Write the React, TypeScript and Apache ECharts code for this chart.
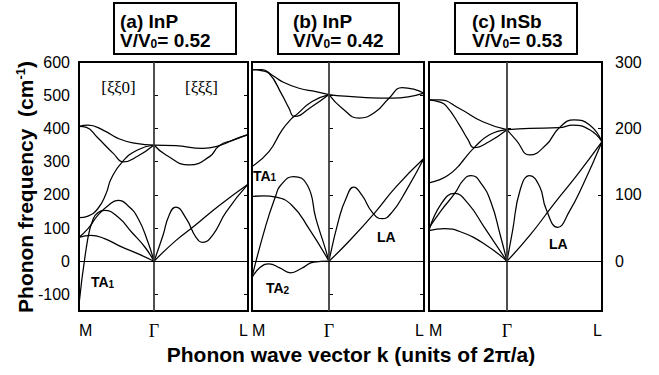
import React, { useEffect, useRef } from 'react';
import * as echarts from 'echarts';

const SANS = 'Liberation Sans, Arial, Helvetica, sans-serif';
const SERIF = 'Liberation Serif, Times New Roman, serif';

// axis ticks / labels
const xTickLabels = ['M', 'Γ', 'L'];
const yTicksLeft = [-100, 0, 100, 200, 300, 400, 500, 600];
const yTicksInner = [-100, 0, 100, 200, 300, 400, 500];
const yTicksRight = [0, 100, 200, 300];
const yTicksRightInner = [0, 100, 200];
const panelTitles = ['(a) InP', '(b) InP', '(c) InSb'];
const panelRatios = ['0.52', '0.42', '0.53'];
// k position of L (M at -1, Γ at 0)
const kEnd = [1.253, 1.234, 1.218];

// ---- panel (a) InP V/V0=0.52 (cm-1) ----
const aOptTopM = [[-1, 406], [-0.88, 410], [-0.68, 395], [-0.46, 368], [-0.24, 355], [0, 350]];
const aOptDipM = [[-1, 406], [-0.9, 403], [-0.76, 374], [-0.54, 324], [-0.41, 299], [-0.22, 316], [0, 350]];
const aOptRiseM = [[-1, 131], [-0.88, 136], [-0.75, 158], [-0.64, 203], [-0.57, 249], [-0.42, 300], [-0.22, 335], [0, 350]];
const aOptFlatL = [[0, 350], [0.29, 348], [0.65, 340], [0.87, 348], [1.05, 364], [1.253, 381]];
const aOptDipL = [[0, 350], [0.16, 320], [0.47, 290], [0.74, 315], [0.87, 348], [1.05, 365], [1.253, 381]];
const aTA1M = [[-1, -130], [-0.88, 72], [-0.81, 128], [-0.75, 146], [-0.66, 153], [-0.48, 133], [-0.3, 88], [-0.12, 42], [0, 0]];
const aLAM = [[-1, 72], [-0.88, 98], [-0.75, 138], [-0.61, 168], [-0.48, 183], [-0.35, 168], [-0.21, 128], [-0.08, 57], [0, 0]];
const aTA2M = [[-1, 72], [-0.84, 78], [-0.66, 68], [-0.44, 44], [-0.21, 22], [0, 0]];
const aTAL = [[0, 0], [0.12, 78], [0.2, 138], [0.29, 163], [0.43, 128], [0.56, 72], [0.65, 57], [0.78, 78], [0.96, 148], [1.253, 232]];
const aLAL = [[0, 0], [0.29, 62], [0.52, 103], [0.87, 168], [1.253, 232]];

// ---- panel (b) InP V/V0=0.42 (cm-1) ----
const bOptTopM = [[-1, 577], [-0.87, 577], [-0.74, 561], [-0.61, 541], [-0.39, 521], [-0.17, 511], [0, 502]];
const bOptDipM = [[-1, 577], [-0.88, 574], [-0.78, 566], [-0.61, 501], [-0.52, 461], [-0.45, 436], [-0.22, 466], [0, 502]];
const bOptRiseM = [[-1, 285], [-0.78, 330], [-0.61, 395], [-0.48, 431], [-0.43, 440], [-0.22, 481], [0, 502]];
const bOptFlatL = [[0, 502], [0.2, 497], [0.48, 493], [0.82, 491], [1.234, 506]];
const bOptDipL = [[0, 502], [0.17, 461], [0.39, 431], [0.61, 451], [0.78, 491], [0.95, 523], [1.1, 518], [1.234, 506]];
const bTAflatM = [[-1, 195], [-0.85, 197], [-0.69, 193], [-0.48, 168], [-0.26, 98], [0, 0]];
const bTA1M = [[-1, -48], [-0.82, 108], [-0.69, 198], [-0.63, 228], [-0.46, 255], [-0.28, 229], [-0.17, 128], [-0.06, 47], [0, 0]];
const bTA2M = [[-1, -50], [-0.9, -20], [-0.78, -8], [-0.64, -20], [-0.5, -35], [-0.36, -22], [-0.2, -3], [0, 0]];
const bTAL = [[0, 0], [0.13, 128], [0.22, 188], [0.32, 223], [0.43, 198], [0.56, 148], [0.69, 128], [0.82, 148], [1.0, 212], [1.234, 310]];
const bLAL = [[0, 0], [0.26, 60], [0.61, 150], [0.87, 224], [1.234, 310]];

// ---- panel (c) InSb V/V0=0.53 (cm-1, right axis) ----
const cOptTopM = [[-1, 243], [-0.87, 243], [-0.61, 230], [-0.31, 210], [0, 198]];
const cOptDipM = [[-1, 243], [-0.87, 240], [-0.78, 234], [-0.61, 205], [-0.5, 183], [-0.42, 171], [-0.23, 180], [0, 198]];
const cOptRiseM = [[-1, 118], [-0.88, 122], [-0.76, 129], [-0.63, 142], [-0.56, 152], [-0.42, 171], [-0.23, 190], [0, 198]];
const cOptFlatL = [[0, 198], [0.29, 200], [0.67, 201], [0.84, 205], [1.06, 198], [1.218, 180]];
const cOptDipL = [[0, 198], [0.12, 182], [0.29, 160], [0.5, 175], [0.67, 201], [0.86, 213], [1.06, 205], [1.218, 180]];
const cAcAM = [[-1, 46], [-0.8, 49], [-0.59, 44], [-0.29, 26], [0, 0]];
const cAcBM = [[-1, 46], [-0.84, 87], [-0.67, 102], [-0.5, 87], [-0.29, 51], [0, 0]];
const cAcCM = [[-1, 50], [-0.84, 77], [-0.67, 102], [-0.56, 122], [-0.46, 129], [-0.33, 117], [-0.2, 87], [-0.09, 41], [0, 0]];
const cTAL = [[0, 0], [0.07, 45], [0.17, 108], [0.29, 129], [0.42, 112], [0.5, 79], [0.65, 51], [0.8, 75], [0.97, 114], [1.218, 180]];
const cLAL = [[0, 0], [0.3, 40], [0.6, 86], [0.9, 130], [1.218, 180]];

const panelCurves = [
  [aOptTopM, aOptDipM, aOptRiseM, aOptFlatL, aOptDipL, aTA1M, aLAM, aTA2M, aTAL, aLAL],
  [bOptTopM, bOptDipM, bOptRiseM, bOptFlatL, bOptDipL, bTAflatM, bTA1M, bTA2M, bTAL, bLAL],
  [cOptTopM, cOptDipM, cOptRiseM, cOptFlatL, cOptDipL, cAcAM, cAcBM, cAcCM, cTAL, cLAL],
];
// y axis used by the data of each panel
const panelDataAxis = [0, 2, 5];

const gridRects = [
  { left: 79, top: 62, width: 169, height: 249 },
  { left: 252, top: 62, width: 172, height: 249 },
  { left: 429, top: 62, width: 173, height: 249 },
];

function buildOption() {
  const grid = gridRects.map((g) => ({
    ...g,
    show: true,
    borderColor: '#000',
    borderWidth: 2,
    backgroundColor: 'transparent',
  }));

  const xAxis = kEnd.map((end, i) => ({
    gridIndex: i,
    type: 'value',
    min: -1,
    max: end,
    axisLine: { show: false },
    axisTick: { show: false },
    splitLine: { show: false },
    axisLabel: {
      customValues: [-1, 0, end],
      formatter: (v: number) =>
        v === -1 ? xTickLabels[0] : v === 0 ? `{g|${xTickLabels[1]}}` : xTickLabels[2],
      margin: 11,
      color: '#000',
      fontSize: 16,
      fontFamily: SANS,
      alignMinLabel: 'left',
      alignMaxLabel: 'right',
      rich: { g: { fontFamily: SERIF, fontSize: 18, color: '#000' } },
    },
  }));

  const tickStyle = { show: true, inside: true, length: 4, lineStyle: { color: '#000', width: 1 } };
  const mkY = (gridIndex: number, position: string, min: number, max: number, ticks: number[], labels: number[] | null) => ({
    gridIndex,
    type: 'value',
    position,
    min,
    max,
    axisLine: { show: false },
    splitLine: { show: false },
    axisTick: { ...tickStyle, customValues: ticks },
    axisLabel: labels
      ? {
          show: true,
          customValues: labels,
          color: '#000',
          fontSize: 16,
          fontFamily: SANS,
          margin: position === 'left' ? 9 : 13,
        }
      : { show: false },
  });

  const yAxis = [
    mkY(0, 'left', -150, 600, yTicksInner, yTicksLeft),
    mkY(0, 'right', -150, 600, yTicksInner, null),
    mkY(1, 'left', -150, 600, yTicksInner, null),
    mkY(1, 'right', -150, 600, yTicksInner, null),
    mkY(2, 'left', -75, 300, yTicksRightInner, null),
    mkY(2, 'right', -75, 300, yTicksRightInner, yTicksRight),
  ];

  const series: any[] = [];
  panelCurves.forEach((curves, p) => {
    curves.forEach((data, j) => {
      const s: any = {
        type: 'line',
        xAxisIndex: p,
        yAxisIndex: panelDataAxis[p],
        data,
        smooth: 0.5,
        symbol: 'none',
        silent: true,
        lineStyle: { color: '#000', width: 1.25 },
        z: 3,
      };
      if (j === 0) {
        s.markLine = {
          silent: true,
          symbol: ['none', 'none'],
          label: { show: false },
          animation: false,
          data: [
            { xAxis: 0, lineStyle: { color: '#3c3c3c', width: 1.8, type: 'solid' } },
            { yAxis: 0, lineStyle: { color: '#000', width: 1, type: 'solid' } },
          ],
        };
      }
      series.push(s);
    });
  });

  const titleBoxes = [
    { x: 114, w: 122, tx: 120 },
    { x: 278, w: 121, tx: 293 },
    { x: 455, w: 122, tx: 472 },
  ];

  const graphic: any[] = [];
  titleBoxes.forEach((b, i) => {
    graphic.push({
      type: 'rect',
      shape: { x: b.x, y: 3, width: b.w, height: 51 },
      style: { fill: '#fff', stroke: '#000', lineWidth: 2 },
      z: 10,
    });
    graphic.push({
      type: 'text',
      x: b.tx,
      y: 21.5,
      z: 11,
      style: {
        text: panelTitles[i],
        fill: '#000',
        font: `bold 19px ${SANS}`,
        align: 'left',
        verticalAlign: 'middle',
      },
    });
    graphic.push({
      type: 'text',
      x: b.tx,
      y: 40.5,
      z: 11,
      style: {
        text: `{t|V/V}{s|0}{t|= ${panelRatios[i]}}`,
        fill: '#000',
        align: 'left',
        verticalAlign: 'middle',
        rich: {
          t: { fontSize: 19, fontWeight: 'bold', fontFamily: SANS, lineHeight: 19, fill: '#000' },
          s: { fontSize: 12, fontWeight: 'bold', fontFamily: SANS, lineHeight: 2, verticalAlign: 'bottom', fill: '#000' },
        },
      },
    });
  });

  const subLabel = (x: number, y: number, main: string, sub: string) => ({
    type: 'text',
    x,
    y,
    z: 11,
    style: {
      text: sub ? `{t|${main}}{s|${sub}}` : `{t|${main}}`,
      fill: '#000',
      align: 'left',
      verticalAlign: 'middle',
      rich: {
        t: { fontSize: 14, fontWeight: 'bold', fontFamily: SANS, lineHeight: 14, fill: '#000' },
        s: { fontSize: 10, fontWeight: 'bold', fontFamily: SANS, lineHeight: 2, verticalAlign: 'bottom', fill: '#000' },
      },
    },
  });

  graphic.push(
    {
      type: 'text', x: 118.5, y: 87, z: 11,
      style: { text: '[ξξ0]', fill: '#000', font: `17px ${SERIF}`, align: 'center', verticalAlign: 'middle' },
    },
    {
      type: 'text', x: 201.5, y: 87, z: 11,
      style: { text: '[ξξξ]', fill: '#000', font: `17px ${SERIF}`, align: 'center', verticalAlign: 'middle' },
    },
    subLabel(91, 282, 'TA', '1'),
    subLabel(253, 175.5, 'TA', '1'),
    subLabel(266, 288, 'TA', '2'),
    subLabel(377, 237, 'LA', ''),
    subLabel(549, 243.5, 'LA', ''),
    {
      type: 'text', x: 351, y: 354, z: 11,
      style: {
        text: 'Phonon wave vector k (units of 2π/a)',
        fill: '#000',
        font: `bold 21px ${SANS}`,
        align: 'center',
        verticalAlign: 'middle',
      },
    },
    {
      type: 'text', x: 25, y: 187, z: 11, rotation: Math.PI / 2,
      style: {
        text: '{t|Phonon frequency  (cm}{s|-1}{t|)}',
        fill: '#000',
        align: 'center',
        verticalAlign: 'middle',
        rich: {
          t: { fontSize: 21, fontWeight: 'bold', fontFamily: SANS, lineHeight: 22, fill: '#000' },
          s: { fontSize: 13, fontWeight: 'bold', fontFamily: SANS, lineHeight: 8, verticalAlign: 'top', fill: '#000' },
        },
      },
    }
  );

  return {
    animation: false,
    backgroundColor: '#fff',
    grid,
    xAxis,
    yAxis,
    series,
    graphic,
  };
}

export default function App() {
  const ref = useRef<HTMLDivElement>(null);
  useEffect(() => {
    const chart = echarts.init(ref.current!, null, { renderer: 'svg' });
    chart.setOption(buildOption() as any);
    return () => chart.dispose();
  }, []);
  return (
    <div
      ref={ref}
      style={{ position: 'fixed', left: 0, top: 0, width: 659, height: 375, background: '#fff' }}
    />
  );
}
